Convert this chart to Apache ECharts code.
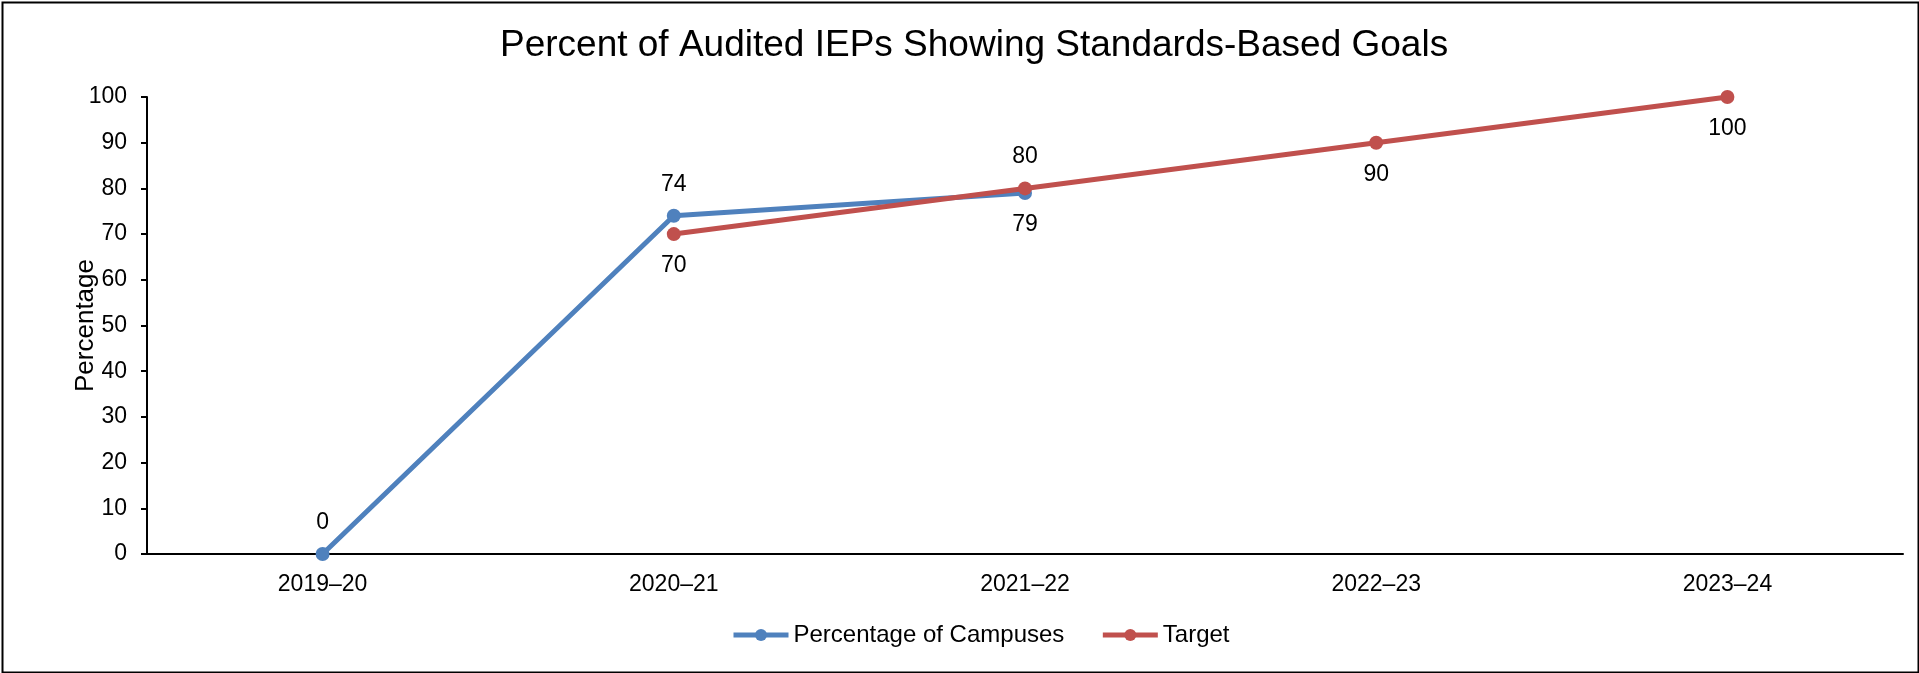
<!DOCTYPE html>
<html>
<head>
<meta charset="utf-8">
<title>Percent of Audited IEPs Showing Standards-Based Goals</title>
<script src="https://cdn.jsdelivr.net/npm/echarts@6/dist/echarts.min.js"></script>
<style>
  html, body { margin: 0; padding: 0; background: #fff; }
  #chart { width: 1919px; height: 673px; }
</style>
</head>
<body>
<div id="chart"></div>
<script>
// School years on the category axis
const years = ['2019–20', '2020–21', '2021–22', '2022–23', '2023–24'];
// Share of campuses with standards-based IEP goals (null = not yet reported)
const campuses = [0, 74, 79, null, null];
// Annual targets (no target for the baseline year)
const target = [null, 70, 80, 90, 100];
// Label placement for each point of each series
const campusLabelPos = ['top', 'top', 'bottom', 'top', 'top'];
const targetLabelPos = ['bottom', 'bottom', 'top', 'bottom', 'bottom'];

const FONT = '"Liberation Sans", Arial, sans-serif';
const BLUE = '#4F81BD';
const RED = '#C0504D';

function withLabels(values, positions) {
  return values.map((v, i) => v === null ? null : {
    value: v,
    label: { position: positions[i] }
  });
}

const chart = echarts.init(document.getElementById('chart'), null, { renderer: 'canvas' });

chart.setOption({
  animation: false,
  backgroundColor: '#ffffff',
  textStyle: { fontFamily: FONT },
  title: {
    text: 'Percent of Audited IEPs Showing Standards-Based Goals',
    left: 495,
    top: 22,
    textStyle: { fontFamily: FONT, fontSize: 37, fontWeight: 'normal', color: '#000' }
  },
  graphic: [{
    type: 'rect',
    left: 0, top: 0,
    shape: { x: 1, y: 1, width: 1916, height: 670 },
    style: { fill: 'none', stroke: '#000', lineWidth: 2 },
    silent: true
  }],
  legend: {
    left: 731,
    top: 623,
    padding: 0,
    itemWidth: 55,
    itemHeight: 15,
    itemGap: 36,
    lineStyle: { width: 5 },
    textStyle: { fontFamily: FONT, fontSize: 24, color: '#000' },
    data: ['Percentage of Campuses', 'Target']
  },
  grid: { left: 147, right: 16, top: 97, bottom: 119, containLabel: false },
  xAxis: {
    type: 'category',
    data: years,
    boundaryGap: true,
    axisLine: { lineStyle: { color: '#000', width: 2 } },
    axisTick: { show: false },
    axisLabel: { margin: 19, fontFamily: FONT, fontSize: 23, color: '#000' },
    splitLine: { show: false }
  },
  yAxis: {
    type: 'value',
    min: 0,
    max: 100,
    interval: 10,
    name: 'Percentage',
    nameLocation: 'middle',
    nameGap: 48,
    nameMoveOverlap: false,
    nameTextStyle: { fontFamily: FONT, fontSize: 26, color: '#000' },
    axisLine: { show: true, lineStyle: { color: '#000', width: 2 } },
    axisTick: { show: true, length: 6, lineStyle: { color: '#000', width: 2 } },
    axisLabel: { margin: 20, fontFamily: FONT, fontSize: 23, color: '#000' },
    splitLine: { show: false }
  },
  series: [
    {
      name: 'Percentage of Campuses',
      type: 'line',
      data: withLabels(campuses, campusLabelPos),
      connectNulls: false,
      symbol: 'circle',
      symbolSize: 14,
      lineStyle: { color: BLUE, width: 5 },
      itemStyle: { color: BLUE },
      label: { show: true, distance: 13, fontFamily: FONT, fontSize: 23, color: '#000' },
      z: 2
    },
    {
      name: 'Target',
      type: 'line',
      data: withLabels(target, targetLabelPos),
      connectNulls: false,
      symbol: 'circle',
      symbolSize: 14,
      lineStyle: { color: RED, width: 5 },
      itemStyle: { color: RED },
      label: { show: true, distance: 13, fontFamily: FONT, fontSize: 23, color: '#000' },
      z: 3
    }
  ]
});
</script>
</body>
</html>
